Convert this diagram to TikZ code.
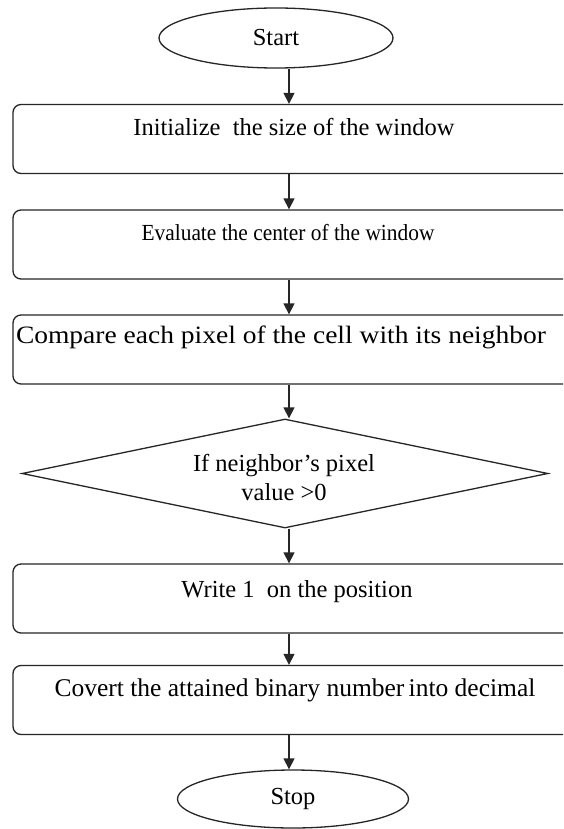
\documentclass[tikz,border=0pt]{standalone}
\usepackage{fontspec}
\setmainfont{Liberation Serif}
\newfontfamily\widerserif[FakeStretch=1.1]{Liberation Serif}
\newfontfamily\narrowserif[FakeStretch=0.93]{Liberation Serif}
\usetikzlibrary{shapes.geometric,arrows.meta}
\tikzset{
  shapeline/.style={draw=black!85, line width=1.3pt},
  stepbox/.style={shapeline, rectangle, rounded corners=8pt, minimum width=587pt, minimum height=69pt, inner sep=0pt},
  termin/.style={shapeline, ellipse, inner sep=0pt, font=\fontsize{24.5}{29}\selectfont},
  decis/.style={shapeline, diamond, inner sep=0pt, minimum width=526pt, minimum height=109pt},
  lbl/.style={inner sep=0pt, font=\fontsize{24.5}{29}\selectfont, align=center},
  flow/.style={draw=black!85, line width=1.3pt, -{Triangle[width=11pt,length=11pt]}}
}
\begin{document}
\begin{tikzpicture}[x=1pt,y=-1pt]
\useasboundingbox (0,0) rectangle (563,829);
\clip (0,0) rectangle (563,829);
\fill[white] (0,0) rectangle (563,829);
\coordinate (ax) at (289,0);
% shapes
\node[termin, minimum width=234pt, minimum height=60pt] (start) at (276,38) {Start};
\node[stepbox] (b1) at (306.5,139) {};
\node[stepbox] (b2) at (306.5,244.5) {};
\node[stepbox] (b3) at (306.5,349.5) {};
\node[decis] (d1) at (285,473.5) {};
\node[stepbox] (b4) at (306.5,598.5) {};
\node[stepbox] (b5) at (306.5,700) {};
\node[termin, minimum width=231pt, minimum height=58pt] (stop) at (293,799) {Stop};
% texts
\node[lbl] (t1) at (294,127) {Initialize\ \ the size of the window};
\node[lbl, font=\narrowserif\fontsize{23}{28}\selectfont] (t2) at (288,233) {Evaluate the center of the window};
\node[lbl, font=\widerserif\fontsize{25}{30}\selectfont] (t3) at (281,337) {Compare each pixel of the cell with its neighbor};
\node[lbl] (td) at (284,477) {If neighbor’s pixel\\value >0};
\node[lbl] (t4) at (297,592) {Write 1\ \ on the position};
\node[lbl, font=\fontsize{25.5}{30}\selectfont] (t5) at (295,690) {Covert the attained binary number\,into decimal};
% connectors
\draw[flow] (start.south -| ax) -- (b1.north -| ax);
\draw[flow] (b1.south -| ax) -- (b2.north -| ax);
\draw[flow] (b2.south -| ax) -- (b3.north -| ax);
\draw[flow] (b3.south -| ax) -- (d1.north -| ax);
\draw[flow] (d1.south -| ax) -- (b4.north -| ax);
\draw[flow] (b4.south -| ax) -- (b5.north -| ax);
\draw[flow] (b5.south -| ax) -- (stop.north -| ax);
\end{tikzpicture}
\end{document}
